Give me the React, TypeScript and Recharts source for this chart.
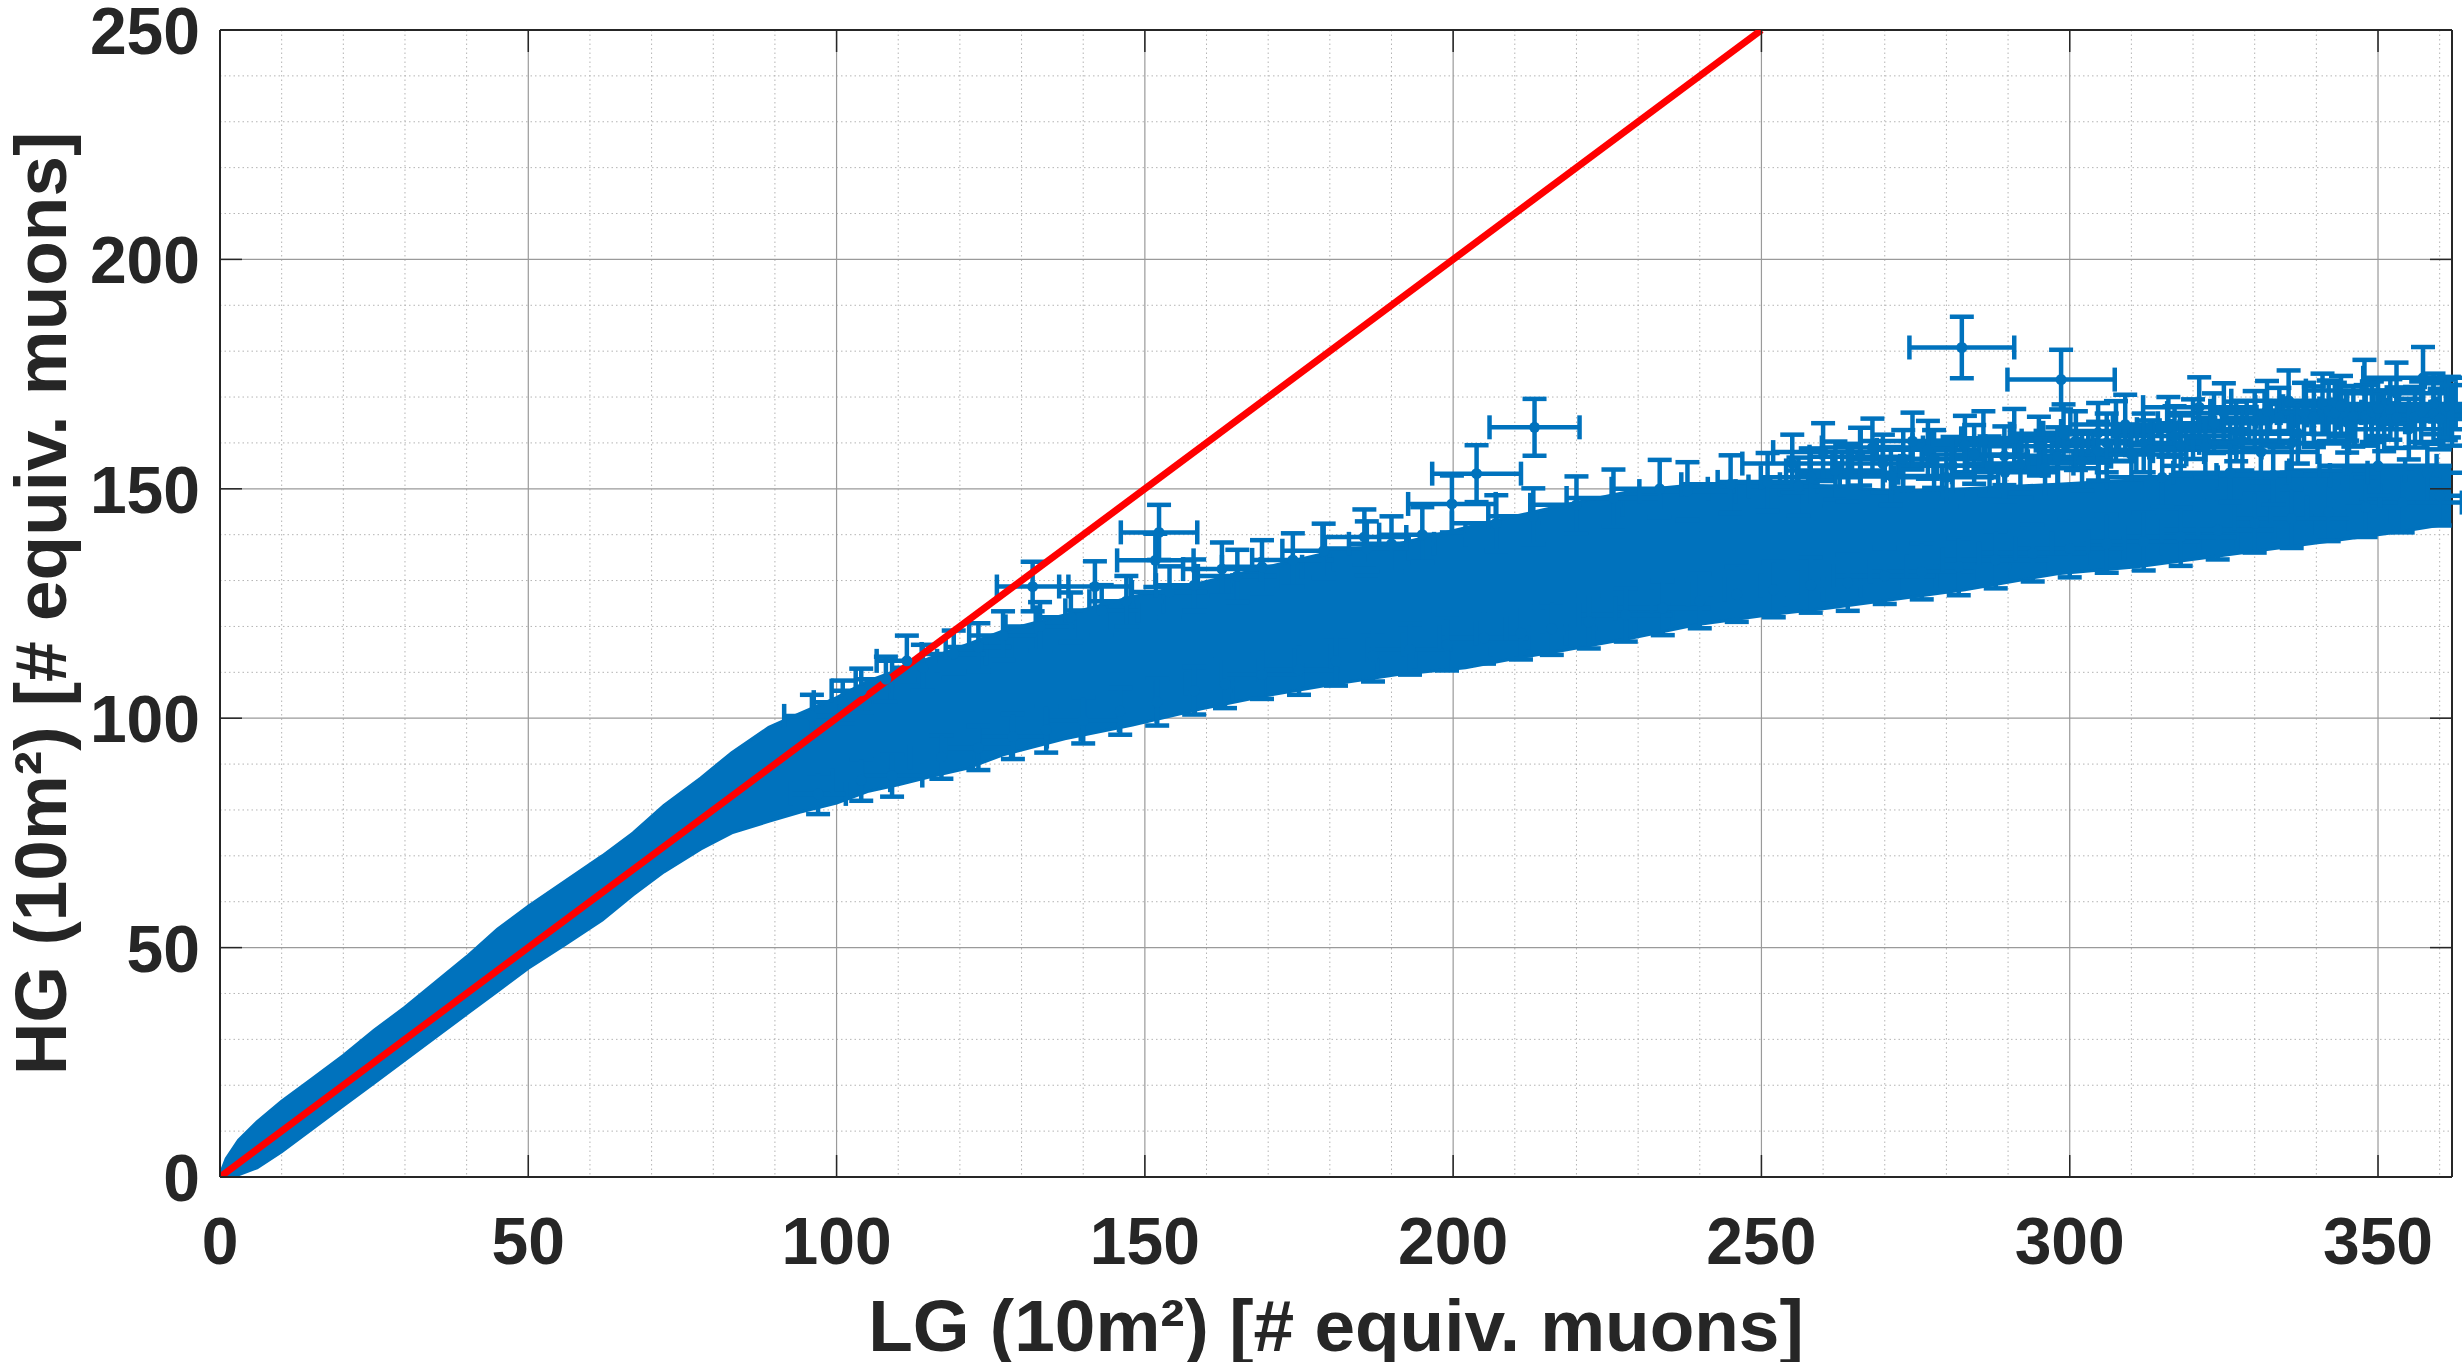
import React from "react";
import {
  ComposedChart,
  Area,
  Line,
  Scatter,
  ErrorBar,
  XAxis,
  YAxis,
  CartesianGrid,
  ReferenceLine,
  Label,
} from "recharts";

// dense part of the cloud: lower / upper envelope
const bandX = [0, 1, 3, 6, 10, 15, 20, 25, 30, 35, 40, 45, 50, 56, 62, 67, 72, 78, 83, 89, 94, 100, 105, 110, 116, 121, 127, 137, 148, 159, 170, 181, 191, 202, 210, 218, 229, 240, 251, 261, 272, 283, 298, 311, 325, 339, 353, 362];
const bandLow = [0, 0, 0.5, 2, 5.5, 10.5, 15.5, 20.5, 25.5, 30.5, 35.5, 40.5, 45.5, 50.7, 56, 61.5, 66.5, 71.5, 75, 77.5, 79.5, 81.5, 84, 85.5, 87.5, 89, 92, 95.5, 98.5, 102, 105, 107.5, 109.5, 111, 113, 114.8, 117.5, 120.5, 122.5, 124, 126, 128, 131.5, 133, 135.5, 138, 140.5, 142.5];
const bandHigh = [0.5, 4, 8, 12, 16.5, 21.5, 26.5, 32, 37, 42.5, 48, 54, 59, 64.5, 70, 75, 81, 87, 92.5, 98, 101, 104.5, 108, 110.5, 113.5, 116, 119, 122.5, 126.5, 129.5, 133, 136.5, 138, 141.5, 144, 146.5, 149.5, 151, 151.5, 150.5, 149.5, 150, 151, 152, 153, 154, 154.5, 155];

// [LG, HG, errLG, errHG]
const outlierPoints: number[][] = [
  [131.8, 128.7, 5.8, 5.4],
  [141.9, 128.7, 5.8, 5.5],
  [152.3, 140.5, 6.2, 6.0],
  [151.7, 134.4, 6.2, 5.8],
  [162.5, 132.5, 6.3, 5.8],
  [185.6, 139.5, 6.8, 6.0],
  [199.8, 146.7, 7.1, 6.2],
  [203.8, 153.3, 7.2, 6.2],
  [213.2, 163.4, 7.3, 6.2],
  [282.5, 180.8, 8.5, 6.7],
  [298.6, 173.8, 8.7, 6.5],
];

const upperBranchPoints: number[][] = [
  [255, 155.5, 8.1, 6.3],
  [258, 152.5, 8.1, 6.3],
  [260, 158, 8.1, 6.3],
  [262, 154, 8.0, 6.3],
  [264, 153.5, 8.2, 6.3],
  [266, 157, 8.2, 6.3],
  [268, 159, 8.2, 6.3],
  [269.7, 155.5, 8.2, 6.3],
  [271, 152.8, 8.3, 6.3],
  [273, 156.5, 8.3, 6.3],
  [274.5, 160.4, 8.4, 6.2],
  [277, 158.5, 8.3, 6.3],
  [278, 156.5, 8.3, 6.3],
  [280, 152.5, 8.4, 6.3],
  [281, 155, 8.5, 6.3],
  [283, 159.5, 8.5, 6.4],
  [284.5, 157.5, 8.5, 6.4],
  [286, 160.5, 8.5, 6.4],
  [287, 155, 8.5, 6.4],
  [289.4, 157.2, 8.6, 6.4],
  [289.5, 153.6, 8.6, 6.3],
  [291, 161, 8.6, 6.4],
  [292, 155.5, 8.6, 6.4],
  [295, 159.3, 8.7, 6.4],
  [296, 154.5, 8.7, 6.4],
  [298, 157, 8.7, 6.4],
  [299, 162, 8.7, 6.4],
  [301, 160.5, 8.8, 6.4],
  [302, 156, 8.8, 6.4],
  [304.6, 162.2, 8.9, 6.5],
  [304.6, 158.2, 8.9, 6.4],
  [306, 160, 8.9, 6.4],
  [307.5, 162.6, 8.9, 6.5],
  [309, 164, 8.9, 6.5],
  [310, 157.5, 8.9, 6.4],
  [312, 160, 9.0, 6.4],
  [313, 158.5, 9.0, 6.4],
  [316, 163.5, 9.0, 6.5],
  [317, 161.5, 9.0, 6.5],
  [318, 159.5, 9.0, 6.5],
  [320, 163, 9.1, 6.5],
  [321, 167.8, 9.1, 6.5],
  [322, 159, 9.1, 6.5],
  [323.4, 164.3, 9.1, 6.5],
  [325, 166.5, 9.2, 6.5],
  [327, 162.5, 9.2, 6.5],
  [328, 160.5, 9.2, 6.5],
  [330, 164.8, 9.2, 6.5],
  [331, 158, 9.2, 6.5],
  [332, 167, 9.2, 6.5],
  [334, 165.5, 9.3, 6.5],
  [335.5, 169.2, 9.3, 6.6],
  [336, 160, 9.3, 6.5],
  [337, 162, 9.3, 6.5],
  [338, 166.5, 9.3, 6.6],
  [339.6, 165.7, 9.3, 6.6],
  [341, 168.5, 9.4, 6.6],
  [342, 167, 9.4, 6.6],
  [343, 166.5, 9.4, 6.6],
  [344, 168, 9.4, 6.6],
  [345, 164.5, 9.4, 6.6],
  [346, 165.8, 9.5, 6.6],
  [347.8, 171.4, 9.5, 6.7],
  [348, 166, 9.5, 6.6],
  [349, 166.8, 9.5, 6.6],
  [350, 167.5, 9.5, 6.6],
  [351, 164.8, 9.6, 6.6],
  [352, 167.3, 9.6, 6.6],
  [353, 170.8, 9.6, 6.7],
  [353, 165.5, 9.6, 6.6],
  [355, 163, 9.6, 6.6],
  [356, 165.6, 9.7, 6.6],
  [357.3, 174.2, 9.7, 6.7],
  [357, 166.8, 9.7, 6.6],
  [359, 168.5, 9.7, 6.6],
  [359, 166.4, 9.7, 6.6],
  [360, 165.2, 9.7, 6.6],
  [361, 167.2, 9.7, 6.6],
  [361.5, 167.8, 9.7, 6.6],
  [362, 166, 9.7, 6.6],
  [315, 152.5, 9.0, 6.4],
  [326, 153.5, 9.2, 6.4],
  [333, 153, 9.2, 6.4],
  [345, 154, 9.4, 6.5],
  [350, 155, 9.5, 6.5],
  [358, 153.5, 9.7, 6.5],
];

const upperEdgePoints: number[][] = [
  [96, 100.5, 4.5, 4.6],
  [101, 103.5, 4.7, 4.7],
  [104, 106, 4.8, 4.8],
  [108, 108.5, 4.9, 4.9],
  [111.4, 112.5, 4.9, 5.5],
  [114, 111, 5.0, 5.0],
  [119, 114, 5.2, 5.1],
  [123, 115.5, 5.3, 5.2],
  [127, 118, 5.5, 5.3],
  [133, 120, 5.6, 5.3],
  [138, 122, 5.7, 5.4],
  [143, 123.5, 5.9, 5.5],
  [147, 125.5, 6.0, 5.5],
  [154, 127.5, 6.1, 5.6],
  [158, 129, 6.2, 5.6],
  [165, 131, 6.4, 5.7],
  [169, 133, 6.5, 5.8],
  [174, 134.5, 6.6, 5.8],
  [179, 136.5, 6.7, 5.9],
  [186, 137, 6.8, 5.9],
  [190, 138, 6.9, 6.0],
  [195, 140, 7.0, 6.0],
  [207, 142.5, 7.2, 6.1],
  [213, 144, 7.3, 6.1],
  [220, 146.5, 7.5, 6.2],
  [226, 148, 7.6, 6.2],
  [233.5, 150, 7.8, 6.3],
  [238, 149.5, 7.8, 6.3],
  [245, 151, 8.0, 6.3],
  [251, 151.5, 8.1, 6.3],
  [256, 150.5, 8.1, 6.3],
];

const lowerEdgePoints: number[][] = [
  [97, 83.5, 4.5, 4.4],
  [104, 86.5, 4.7, 4.5],
  [109, 87.5, 4.9, 4.6],
  [117, 91.5, 5.1, 4.7],
  [123, 93.5, 5.3, 4.8],
  [128.6, 96, 5.5, 4.9],
  [134, 97.5, 5.6, 5.0],
  [140, 99.5, 5.8, 5.0],
  [146, 101.5, 5.9, 5.1],
  [152, 103.5, 6.1, 5.1],
  [158, 106, 6.2, 5.2],
  [163, 107.5, 6.3, 5.3],
  [169, 109.5, 6.5, 5.3],
  [175, 110.5, 6.6, 5.4],
  [181, 112.5, 6.7, 5.4],
  [187, 113.5, 6.8, 5.5],
  [193, 115, 6.9, 5.5],
  [199, 116, 7.1, 5.6],
  [205, 117.5, 7.2, 5.6],
  [211, 118.5, 7.3, 5.7],
  [216, 119.5, 7.4, 5.7],
  [222, 121, 7.5, 5.8],
  [228, 122.5, 7.6, 5.8],
  [234, 124, 7.7, 5.9],
  [240, 125.5, 7.8, 5.9],
  [246, 127, 7.9, 6.0],
  [252, 128, 8.0, 6.0],
  [258, 129, 8.1, 6.0],
  [264, 129.5, 8.2, 6.1],
  [270, 131, 8.3, 6.1],
  [276, 132, 8.4, 6.1],
  [282, 133, 8.5, 6.2],
  [288, 134.5, 8.6, 6.2],
  [294, 136, 8.7, 6.2],
  [300, 137, 8.8, 6.3],
  [306, 138, 8.9, 6.3],
  [312, 138.5, 9.0, 6.3],
  [318, 139.5, 9.1, 6.3],
  [324, 141, 9.1, 6.4],
  [330, 142.5, 9.2, 6.4],
  [336, 143.5, 9.3, 6.4],
  [342, 145, 9.4, 6.4],
  [348, 146, 9.5, 6.5],
  [354, 147, 9.6, 6.5],
  [360, 148.5, 9.7, 6.5],
];

// HG = LG reference line
const identityX = [0, 250];

const xTicks = [0, 50, 100, 150, 200, 250, 300, 350];
const yTicks = [0, 50, 100, 150, 200, 250];
const xMinor = [10, 20, 30, 40, 60, 70, 80, 90, 110, 120, 130, 140, 160, 170, 180, 190, 210, 220, 230, 240, 260, 270, 280, 290, 310, 320, 330, 340, 360];
const yMinor = [10, 20, 30, 40, 60, 70, 80, 90, 110, 120, 130, 140, 160, 170, 180, 190, 210, 220, 230, 240];

const X_MAX = 362;
const BLUE = "#0072BD";
const INK = "#262626";
const FONT = "'Liberation Sans', Arial, sans-serif";
const W = 2462;
const H = 1362;
const PLOT = { left: 220, right: 2452, top: 30, bottom: 1177 };

const bandData = bandX.map((x, i) => ({ x, band: [bandLow[i], bandHigh[i]] }));
const identityData = identityX.map((v) => ({ x: v, y: v }));
const toRows = (pts: number[][]) => pts.map(([x, y, ex, ey]) => ({ x, y, ex, ey }));

const XTick = (props: any) => {
  const { x, payload } = props;
  return (
    <g>
      <line x1={x} x2={x} y1={PLOT.bottom} y2={PLOT.bottom - 22} stroke={INK} strokeWidth={1.5} />
      <line x1={x} x2={x} y1={PLOT.top} y2={PLOT.top + 22} stroke={INK} strokeWidth={1.5} />
      <text x={x} y={PLOT.bottom + 87} textAnchor="middle" fontFamily={FONT} fontWeight="bold" fontSize={66} fill={INK}>
        {payload.value}
      </text>
    </g>
  );
};

const YTick = (props: any) => {
  const { y, payload } = props;
  return (
    <g>
      <line x1={PLOT.left} x2={PLOT.left + 22} y1={y} y2={y} stroke={INK} strokeWidth={1.5} />
      <line x1={PLOT.right} x2={PLOT.right - 22} y1={y} y2={y} stroke={INK} strokeWidth={1.5} />
      <text x={PLOT.left - 20} y={y + 24} textAnchor="end" fontFamily={FONT} fontWeight="bold" fontSize={66} fill={INK}>
        {payload.value}
      </text>
    </g>
  );
};

const dot = (props: any) => <circle cx={props.cx} cy={props.cy} r={5.5} fill={BLUE} />;

const renderPoints = (name: string, pts: number[][]) => (
  <Scatter key={name} name={name} data={toRows(pts)} dataKey="y" shape={dot} isAnimationActive={false}>
    <ErrorBar dataKey="ex" direction="x" width={12} strokeWidth={4} stroke={BLUE} />
    <ErrorBar dataKey="ey" direction="y" width={12} strokeWidth={4} stroke={BLUE} />
  </Scatter>
);

export default function App() {
  return (
    <div style={{ position: "absolute", left: 0, top: 0, width: W, height: H, background: "#fff" }}>
      <style>{`.recharts-errorBar line { stroke-width: 4.5px; stroke: ${BLUE}; }`}</style>
      <ComposedChart width={W} height={H} data={bandData} margin={{ top: PLOT.top, right: W - PLOT.right, bottom: 0, left: 0 }}>
        <CartesianGrid verticalValues={xMinor} horizontalValues={yMinor} stroke="#b4b4b4" strokeDasharray="1.5 3" />
        <CartesianGrid verticalValues={xTicks} horizontalValues={yTicks} stroke="#9a9a9a" strokeWidth={1.2} />
        <XAxis
          type="number"
          dataKey="x"
          domain={[0, X_MAX]}
          ticks={xTicks}
          interval={0}
          allowDataOverflow
          height={H - PLOT.bottom}
          tickSize={0}
          tickMargin={0}
          tickLine={false}
          axisLine={{ stroke: INK, strokeWidth: 2 }}
          tick={<XTick />}
        >
          <Label
            content={() => (
              <text x={(PLOT.left + PLOT.right) / 2} y={1351} textAnchor="middle" fontFamily={FONT} fontWeight="bold" fontSize={73} fill={INK}>
                LG (10m²) [# equiv. muons]
              </text>
            )}
          />
        </XAxis>
        <YAxis
          type="number"
          domain={[0, 250]}
          ticks={yTicks}
          interval={0}
          allowDataOverflow
          width={PLOT.left}
          tickSize={0}
          tickMargin={0}
          tickLine={false}
          axisLine={{ stroke: INK, strokeWidth: 2 }}
          tick={<YTick />}
        >
          <Label
            content={() => (
              <text
                x={66}
                y={(PLOT.top + PLOT.bottom) / 2}
                textAnchor="middle"
                transform={`rotate(-90, 66, ${(PLOT.top + PLOT.bottom) / 2})`}
                fontFamily={FONT}
                fontWeight="bold"
                fontSize={73}
                fill={INK}
              >
                HG (10m²) [# equiv. muons]
              </text>
            )}
          />
        </YAxis>
        <ReferenceLine y={250} stroke={INK} strokeWidth={2} />
        <ReferenceLine x={X_MAX} stroke={INK} strokeWidth={2} />
        <Area
          type="linear"
          dataKey="band"
          stroke={BLUE}
          strokeWidth={3}
          fill={BLUE}
          fillOpacity={1}
          dot={false}
          activeDot={false}
          isAnimationActive={false}
        />
        {renderPoints("lowerEdge", lowerEdgePoints)}
        {renderPoints("upperEdge", upperEdgePoints)}
        {renderPoints("upperBranch", upperBranchPoints)}
        {renderPoints("outliers", outlierPoints)}
        <Line
          data={identityData}
          dataKey="y"
          type="linear"
          stroke="#FF0000"
          strokeWidth={7}
          dot={false}
          activeDot={false}
          isAnimationActive={false}
        />
      </ComposedChart>
    </div>
  );
}
